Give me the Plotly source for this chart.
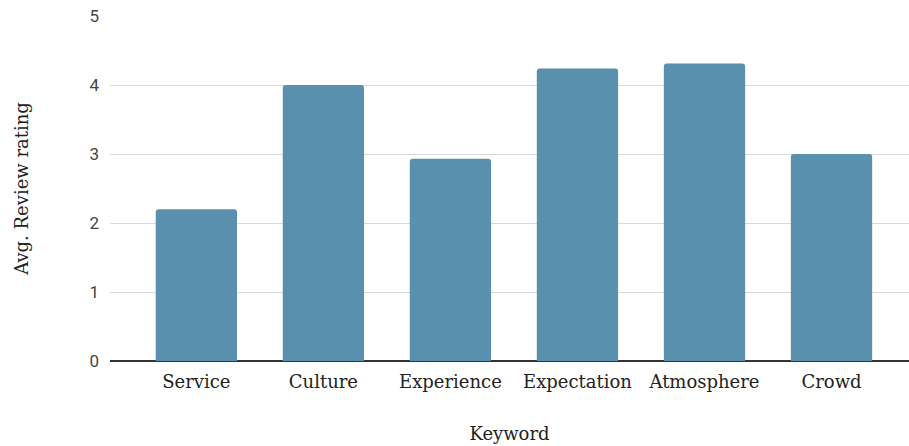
import plotly.graph_objects as go

categories = ["Service", "Culture", "Experience", "Expectation", "Atmosphere", "Crowd"]
ratings = [2.2, 4.0, 2.93, 4.24, 4.31, 3.0]
y_ticks = [0, 1, 2, 3, 4, 5]

serif = "DejaVu Serif, Liberation Serif, serif"

fig = go.Figure(go.Bar(
    x=categories, y=ratings,
    marker=dict(color="#5990ae", cornerradius=3, line=dict(width=0)),
    hoverinfo="skip",
))
fig.update_layout(
    width=909, height=446,
    margin=dict(l=110, r=0, t=16, b=85),
    paper_bgcolor="white", plot_bgcolor="white",
    bargap=0.36,
    showlegend=False,
    xaxis=dict(
        range=[-0.68, 5.61],
        showgrid=False, showline=False, zeroline=False,
        ticks="", ticklabelstandoff=8,
        tickfont=dict(family=serif, size=18, color="#222"),
        title=dict(text="Keyword", font=dict(family=serif, size=18, color="#222"), standoff=36),
    ),
    yaxis=dict(
        range=[0, 5], tickvals=y_ticks,
        showgrid=True, gridcolor="#d9d9d9", gridwidth=1,
        zeroline=True, zerolinecolor="#333", zerolinewidth=1.5,
        showline=False, ticks="", ticklabelstandoff=10,
        tickfont=dict(family="Roboto, Lato, sans-serif", size=17, color="#444"),
        title=dict(text="Avg. Review rating", font=dict(family=serif, size=18, color="#222"), standoff=56),
    ),
)
fig.write_html("out.html", config={"displayModeBar": False, "staticPlot": True},
               post_script="document.body.style.margin='0';")
